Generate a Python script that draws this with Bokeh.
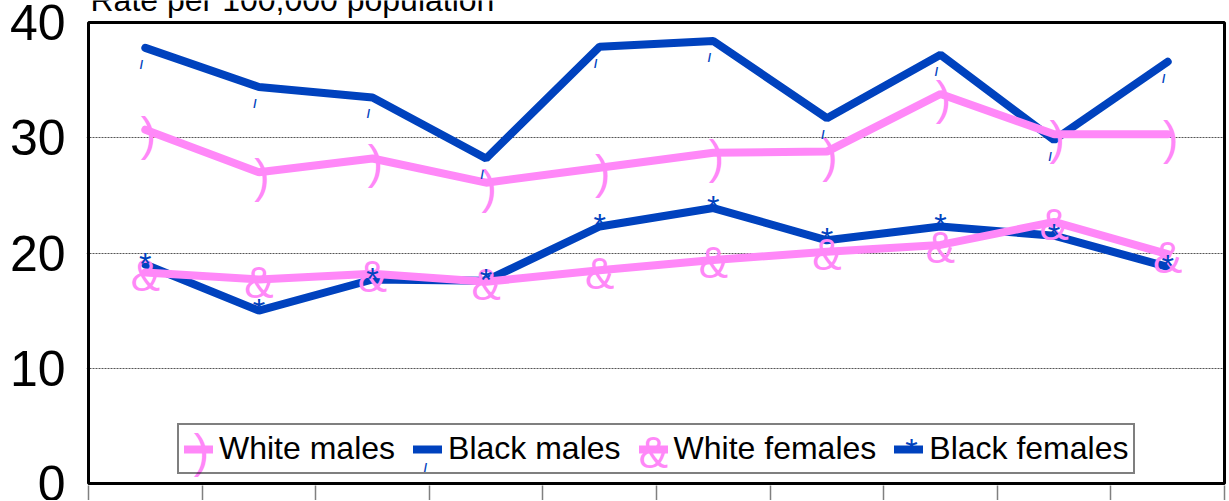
from bokeh.plotting import figure
from bokeh.embed import file_html
from bokeh.resources import INLINE
from bokeh.core.properties import value
from bokeh.models import (Label, Legend, LegendItem, FixedTicker, Range1d,
                          ColumnDataSource, BoxAnnotation)

# ---- data ----
periods = list(range(1, 11))
white_males = [30.7, 27.0, 28.2, 26.1, 27.4, 28.7, 28.8, 33.8, 30.3, 30.3]
black_males = [37.8, 34.4, 33.5, 28.2, 37.9, 38.4, 31.7, 37.2, 29.8, 36.6]
white_females = [18.3, 17.7, 18.2, 17.5, 18.5, 19.4, 20.1, 20.7, 22.7, 19.9]
black_females = [19.0, 15.0, 17.7, 17.6, 22.3, 23.9, 21.1, 22.3, 21.5, 18.8]
series_names = ["White males", "Black males", "White females", "Black females"]
series_marks = [")", "/", "&", "*"]
y_ticks = [0, 10, 20, 30, 40]
Y_MAX = 40
title_text = "Rate per 100,000 population"

PINK = "#FF88F8"
BLUE = "#0042BE"
FONT = "Liberation Sans"

# ---- layout (page pixels) ----
W, H = 1228, 500
BOX_L, BOX_R, BOX_T, BOX_B = 88, 1224, 22, 483   # boxed chart area
PAD = 2                                          # frame slightly larger than box
ML, MR, MB = BOX_L - PAD, W - (BOX_R + PAD), H - (BOX_B + PAD)
ppx = (BOX_R - BOX_L) / 10.0       # px per category
ppy = (BOX_B - BOX_T) / Y_MAX      # px per unit of rate

src = ColumnDataSource(dict(x=periods, wm=white_males, bm=black_males,
                            wf=white_females, bf=black_females))

p = figure(width=W, height=H,
           x_range=Range1d(0.5 - PAD / ppx, 10.5 + PAD / ppx),
           y_range=Range1d(-PAD / ppy, Y_MAX + BOX_T / ppy),
           output_backend="svg", toolbar_location=None,
           min_border_left=ML, min_border_right=MR,
           min_border_top=0, min_border_bottom=MB)
p.background_fill_color = "white"
p.border_fill_color = "white"
p.outline_line_color = None

# axes
p.yaxis.ticker = FixedTicker(ticks=y_ticks)
p.yaxis.major_label_text_font = FONT
p.yaxis.major_label_text_font_size = "50px"
p.yaxis.major_label_text_color = "black"
p.yaxis.major_tick_out = 0
p.yaxis.major_tick_in = 0
p.yaxis.minor_tick_line_color = None
p.yaxis.axis_line_color = None
p.yaxis.major_label_standoff = 21

p.xaxis.ticker = FixedTicker(ticks=[i + 0.5 for i in range(0, 11)])
p.xaxis.major_tick_out = MB
p.xaxis.major_tick_in = 0
p.xaxis.major_tick_line_color = "#808080"
p.xaxis.major_tick_line_width = 1.5
p.xaxis.minor_tick_line_color = None
p.xaxis.axis_line_color = None
p.xaxis.major_label_text_font_size = "1px"
p.xaxis.major_label_text_color = None
p.xaxis.major_label_standoff = 0

p.xgrid.grid_line_color = None
p.ygrid.ticker = FixedTicker(ticks=[10, 20, 30])
p.ygrid.grid_line_color = "#555555"
p.ygrid.grid_line_dash = "2 1"
p.ygrid.grid_line_width = 1

# lines (blue under pink)
bm_line = p.line("x", "bm", source=src, line_color=BLUE, line_width=8,
                 line_cap="round")
bf_line = p.line("x", "bf", source=src, line_color=BLUE, line_width=8,
                 line_cap="round")
wm_line = p.line("x", "wm", source=src, line_color=PINK, line_width=8,
                 line_cap="round")
wf_line = p.line("x", "wf", source=src, line_color=PINK, line_width=8,
                 line_cap="round")

# marker glyphs (font characters)
mark_style = {
    ")": dict(text_font_size="46px", text_font_style="normal", text_color=PINK,
              x_offset=3, y_offset=4),
    "/": dict(text_font_size="12px", text_font_style="bold", text_color=BLUE,
              x_offset=-4, y_offset=17),
    "&": dict(text_font_size="44px", text_font_style="normal", text_color=PINK,
              x_offset=0, y_offset=3),
    "*": dict(text_font_size="32px", text_font_style="normal", text_color=BLUE,
              x_offset=0, y_offset=-1),
}
for col, mk in zip(["wm", "bm", "wf", "bf"], series_marks):
    p.text("x", col, source=src, text=value(mk), text_font=value(FONT),
           text_align="center", text_baseline="middle", **mark_style[mk])

# black box around the 0-40 chart area
p.add_layout(BoxAnnotation(left=0.5, right=10.5, bottom=0, top=Y_MAX,
                           fill_alpha=0, line_color="black", line_alpha=1,
                           line_width=3))

# title (partially cut at top like the reference)
p.add_layout(Label(x=0.5, y=Y_MAX, x_offset=2, y_offset=23, text=title_text,
                   text_font=FONT, text_font_size="32px", text_color="black",
                   text_baseline="alphabetic"))

# legend (transparent fill so the marker characters under it stay visible)
legend = Legend(items=[LegendItem(label=series_names[0], renderers=[wm_line]),
                       LegendItem(label=series_names[1], renderers=[bm_line]),
                       LegendItem(label=series_names[2], renderers=[wf_line]),
                       LegendItem(label=series_names[3], renderers=[bf_line])],
                orientation="horizontal", location=(89 + PAD, 9 + PAD))
legend.label_text_font = FONT
legend.label_text_font_size = "32px"
legend.label_text_color = "black"
legend.glyph_width = 29
legend.glyph_height = 30
legend.label_standoff = 6
legend.spacing = 18
legend.padding = 5
legend.margin = 0
legend.border_line_color = "black"
legend.border_line_width = 2
legend.background_fill_alpha = 0
p.add_layout(legend)


# marker characters drawn on the legend swatches (pixel -> data helper)
def px_x(px):
    return 0.5 + (px - BOX_L) / ppx


def px_y(py):
    return (BOX_B - py) / ppy


legend_mark_px = {")": (201, 450), "/": (425, 467), "&": (653, 452), "*": (911, 449)}
for mk in series_marks:
    st = mark_style[mk]
    lx, ly = legend_mark_px[mk]
    p.add_layout(Label(x=px_x(lx), y=px_y(ly), text=mk, text_font=FONT,
                       text_font_size=st["text_font_size"],
                       text_font_style=st["text_font_style"],
                       text_color=st["text_color"], text_align="center",
                       text_baseline="middle"))

open("out.html", "w").write(file_html(p, INLINE))
